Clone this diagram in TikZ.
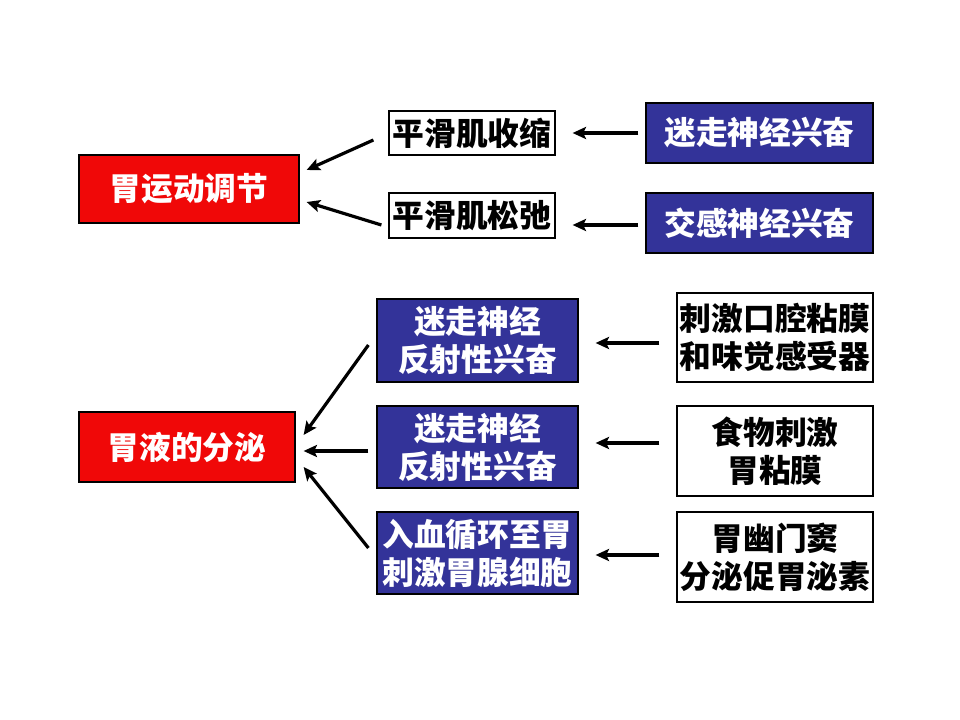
\documentclass[tikz,border=0pt]{standalone}
\usepackage{fontspec}
\setmainfont{Noto Sans CJK SC}
\usetikzlibrary{arrows.meta,calc}
\definecolor{boxred}{RGB}{240,8,8}
\definecolor{boxblue}{RGB}{51,51,153}
\begin{document}
\begin{tikzpicture}[x=0.75pt,y=-0.75pt,
  base/.style={draw=black,line width=0.9pt,inner sep=0pt,align=center,
    font=\fontsize{23.8}{28.5}\selectfont\bfseries},
  redbox/.style={base,fill=boxred,text=white},
  bluebox/.style={base,fill=boxblue,text=white},
  whitebox/.style={base,fill=white,text=black},
  arr/.style={line width=2.4pt,-{Stealth[length=10pt,width=9pt,inset=2pt]}}]
\useasboundingbox (0,0) rectangle (960,720);
% top group
\node[redbox,minimum width=165pt,minimum height=51pt] (m1) at (189,189) {胃运动调节};
\node[whitebox,minimum width=124.5pt,minimum height=33pt] (c1) at (472,133) {平滑肌收缩};
\node[whitebox,minimum width=124.5pt,minimum height=33.75pt] (c2) at (472,215.5) {平滑肌松弛};
\node[bluebox,minimum width=170.25pt,minimum height=45pt] (v1) at (759.5,133) {迷走神经兴奋};
\node[bluebox,minimum width=170.25pt,minimum height=45pt] (v2) at (759.5,223) {交感神经兴奋};
% bottom group
\node[redbox,minimum width=162pt,minimum height=52.5pt] (m2) at (187,447) {胃液的分泌};
\node[bluebox,minimum width=150.75pt,minimum height=62.25pt] (b1) at (477.5,340.5) {迷走神经\\反射性兴奋};
\node[bluebox,minimum width=150.75pt,minimum height=61.5pt] (b2) at (477.5,447) {迷走神经\\反射性兴奋};
\node[bluebox,minimum width=150.75pt,minimum height=61.5pt] (b3) at (477.5,553) {入血循环至胃\\刺激胃腺细胞};
\node[whitebox,minimum width=147pt,minimum height=66.75pt] (w1) at (775,337.5) {刺激口腔粘膜\\和味觉感受器};
\node[whitebox,minimum width=147pt,minimum height=67.5pt] (w2) at (775,451) {食物刺激\\胃粘膜};
\node[whitebox,minimum width=147pt,minimum height=67.5pt] (w3) at (775,557) {胃幽门窦\\分泌促胃泌素};
% arrows top
\draw[arr] ($(v1.west)+(-7,0)$) -- ($(c1.east)+(17,0)$);
\draw[arr] ($(v2.west)+(-7,2)$) -- ($(c2.east)+(17,9.5)$);
\draw[arr] ($(c1.west)+(-15,7)$) -- ($(m1.east)+(7,-19)$);
\draw[arr] ($(c2.west)+(-7,9.5)$) -- ($(m1.east)+(7,13)$);
% arrows bottom
\draw[arr] ($(w1.west)+(-17,5.5)$) -- ($(b1.east)+(17,2.5)$);
\draw[arr] ($(w2.west)+(-17,-8)$) -- ($(b2.east)+(17,-4)$);
\draw[arr] ($(w3.west)+(-17,-2)$) -- ($(b3.east)+(17,2)$);
\draw[arr] ($(b1.west)+(-8,4.5)$) -- ($(m2.east)+(8,-12)$);
\draw[arr] ($(b2.west)+(-8,4)$) -- ($(m2.east)+(8,4)$);
\draw[arr] ($(b3.west)+(-8,-5)$) -- ($(m2.east)+(8,20)$);
\end{tikzpicture}
\end{document}
